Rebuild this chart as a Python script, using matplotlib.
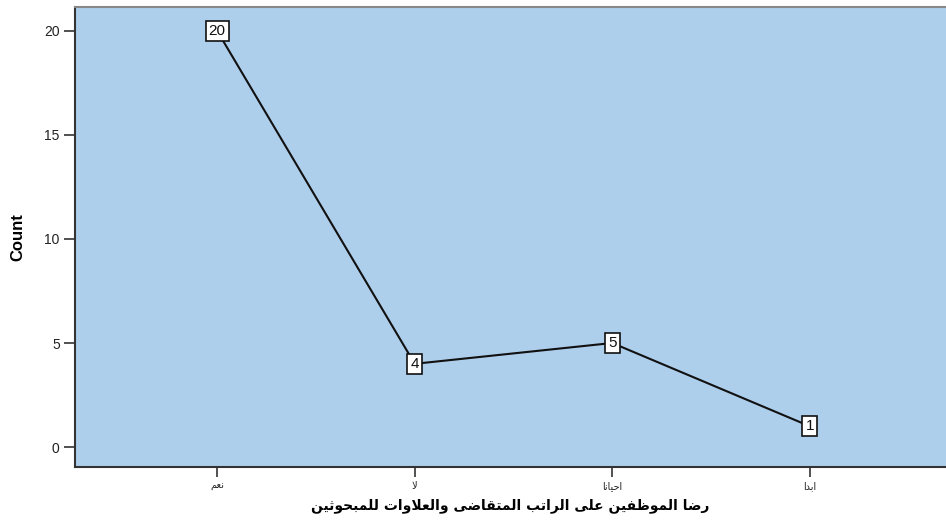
import matplotlib
matplotlib.use("Agg")
import matplotlib.pyplot as plt

# ---- data ----
categories = ["نعم", "لا", "احيانا", "ابدا"]
counts = [20, 4, 5, 1]
y_ticks = [0, 5, 10, 15, 20]
x_title = "رضا الموظفين على الراتب المتقاضى والعلاوات للمبحوثين"
y_title = "Count"

# ---- minimal Arabic shaping (presentation forms) ----
FORMS = {
    'ا': ('\uFE8D', '\uFE8E', None, None),
    'ب': ('\uFE8F', '\uFE90', '\uFE91', '\uFE92'),
    'ت': ('\uFE95', '\uFE96', '\uFE97', '\uFE98'),
    'ث': ('\uFE99', '\uFE9A', '\uFE9B', '\uFE9C'),
    'ح': ('\uFEA1', '\uFEA2', '\uFEA3', '\uFEA4'),
    'د': ('\uFEA9', '\uFEAA', None, None),
    'ر': ('\uFEAD', '\uFEAE', None, None),
    'ض': ('\uFEBD', '\uFEBE', '\uFEBF', '\uFEC0'),
    'ظ': ('\uFEC5', '\uFEC6', '\uFEC7', '\uFEC8'),
    'ع': ('\uFEC9', '\uFECA', '\uFECB', '\uFECC'),
    'ف': ('\uFED1', '\uFED2', '\uFED3', '\uFED4'),
    'ق': ('\uFED5', '\uFED6', '\uFED7', '\uFED8'),
    'ل': ('\uFEDD', '\uFEDE', '\uFEDF', '\uFEE0'),
    'م': ('\uFEE1', '\uFEE2', '\uFEE3', '\uFEE4'),
    'ن': ('\uFEE5', '\uFEE6', '\uFEE7', '\uFEE8'),
    'و': ('\uFEED', '\uFEEE', None, None),
    'ى': ('\uFEEF', '\uFEF0', None, None),
    'ي': ('\uFEF1', '\uFEF2', '\uFEF3', '\uFEF4'),
}


def shape(text):
    chars = []
    i = 0
    while i < len(text):
        if text[i] == 'ل' and i + 1 < len(text) and text[i + 1] == 'ا':
            chars.append('LA')
            i += 2
        else:
            chars.append(text[i])
            i += 1

    def joins_forward(c):
        if c == 'LA':
            return False
        f = FORMS.get(c)
        return f is not None and f[2] is not None

    def joining(c):
        return c == 'LA' or c in FORMS

    out = []
    for k, c in enumerate(chars):
        prev = chars[k - 1] if k > 0 else None
        nxt = chars[k + 1] if k + 1 < len(chars) else None
        conn_prev = prev is not None and joins_forward(prev)
        if c == 'LA':
            out.append('\uFEFC' if conn_prev else '\uFEFB')
            continue
        if c not in FORMS:
            out.append(c)
            continue
        f = FORMS[c]
        conn_next = f[2] is not None and nxt is not None and joining(nxt)
        if conn_prev and conn_next:
            out.append(f[3])
        elif conn_prev:
            out.append(f[1])
        elif conn_next:
            out.append(f[2])
        else:
            out.append(f[0])
    return ''.join(reversed(out))


plt.rcParams['font.family'] = ['Liberation Sans', 'DejaVu Sans']

fig = plt.figure(figsize=(9.46, 5.22), dpi=100)
ax = fig.add_axes([75 / 946, 1 - 467 / 522, 1 - 75 / 946, (467 - 7) / 522])
ax.set_facecolor('#AECFEC')

x = list(range(len(categories)))
ax.plot(x, counts, color='#111111', lw=1.5, zorder=2)
for xi, c in zip(x, counts):
    ax.text(xi, c, str(c), ha='center', va='center', fontsize=11, color='#111111',
            bbox=dict(boxstyle='square,pad=0.2', fc='white', ec='#111111', lw=1.2),
            zorder=3)

ax.set_xlim(-0.72, 3.69)
ax.set_ylim(-0.96, 21.15)
ax.set_yticks(y_ticks)
ax.set_yticklabels([str(v) for v in y_ticks], fontsize=10, color='#222222')
ax.set_xticks(x)
ax.set_xticklabels([shape(c) for c in categories], fontsize=7,
                   family='DejaVu Sans', color='#222222')
ax.tick_params(axis='y', direction='out', length=8, width=1.2, color='#333333', pad=3)
ax.tick_params(axis='x', direction='out', length=7, width=1.2, color='#333333', pad=3)

ax.set_ylabel(y_title, fontsize=12, fontweight='bold', va='center')
ax.yaxis.set_label_coords(-0.0655, 0.5)
ax.set_xlabel(shape(x_title), fontsize=10, fontweight='bold', family='DejaVu Sans',
              labelpad=5)

for s in ['left', 'bottom']:
    ax.spines[s].set_color('#333333')
    ax.spines[s].set_linewidth(1.5)
ax.spines['top'].set_color('#888888')
ax.spines['top'].set_linewidth(1.5)
ax.spines['right'].set_visible(False)

fig.savefig('out.png', dpi=100, facecolor='white')
